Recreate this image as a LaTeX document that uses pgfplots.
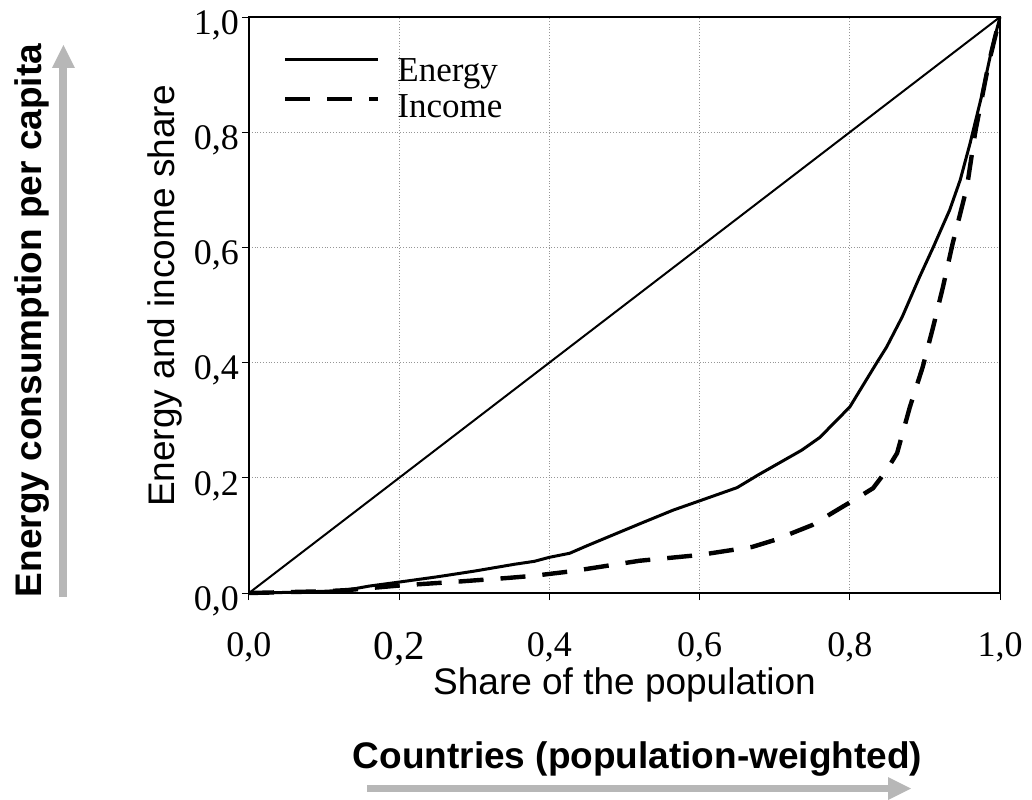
\documentclass[border=0pt]{standalone}
\usepackage{pgfplots}
\pgfplotsset{compat=1.18}
\usepackage{fontspec}
\setmainfont{Liberation Serif}
\newfontfamily\arial{Liberation Sans}
\definecolor{arrowgray}{RGB}{183,183,183}
\definecolor{gridgray}{RGB}{150,150,150}
\begin{document}
\begin{tikzpicture}
\begin{axis}[
  at={(0,0)}, anchor=south west,
  scale only axis, width=375.5pt, height=288pt,
  xmin=0, xmax=1, ymin=0, ymax=1,
  xtick={0,0.2,0.4,0.6,0.8,1}, ytick={0,0.2,0.4,0.6,0.8,1},
  xticklabels={{0,0},{\fontsize{20.5}{20.5}\selectfont 0,2},{0,4},{0,6},{0,8},{1,0}},
  yticklabels={{0,0},{0,2},{0,4},{0,6},{0,8},{1,0}},
  tick label style={font=\fontsize{18}{18}\selectfont},
  xticklabel style={yshift=-12.5pt},
  yticklabel style={xshift=2pt, yshift=-4pt},
  tick pos=left, tick align=outside, major tick length=3.5pt,
  tick style={black, line width=0.5pt},
  grid=major, grid style={gridgray, densely dotted, line width=0.5pt},
  axis line style={line width=1.2pt},
  clip=false,
]
\addplot[black, line width=1pt] coordinates {(0,0) (1,1)};
\addplot[black, line width=1.5pt] table {
x y
0 0
0.05 0.001
0.10 0.003
0.13 0.005
0.16 0.012
0.20 0.019
0.25 0.028
0.30 0.038
0.354 0.050
0.38 0.055
0.40 0.062
0.427 0.069
0.45 0.082
0.52 0.120
0.565 0.144
0.60 0.160
0.65 0.183
0.678 0.205
0.736 0.248
0.76 0.270
0.80 0.323
0.836 0.400
0.849 0.427
0.87 0.48
0.893 0.549
0.911 0.600
0.933 0.665
0.947 0.717
0.96 0.78
0.975 0.86
0.99 0.95
1.0 1.0
};
\addplot[black, line width=2.2pt, dash pattern=on 12.5pt off 8.5pt] table {
x y
0 0
0.10 0.003
0.13 0.005
0.20 0.013
0.27 0.019
0.343 0.026
0.38 0.030
0.431 0.038
0.52 0.056
0.60 0.066
0.67 0.080
0.70 0.092
0.75 0.118
0.783 0.144
0.81 0.165
0.831 0.182
0.849 0.213
0.863 0.243
0.880 0.323
0.897 0.392
0.911 0.462
0.924 0.531
0.937 0.607
0.956 0.705
0.967 0.80
0.985 0.92
1.0 1.0
};
\end{axis}
\begin{scope}[shift={(-124.5pt,296.5pt)}, x=0.5pt, y=-0.5pt]
  % legend
  \draw[black, line width=1.5pt] (285,60) -- (378,60);
  \draw[black, line width=2.2pt, dash pattern=on 12.5pt off 8.5pt] (285,99) -- (378,99);
  \node[anchor=base west, inner sep=0pt, font=\fontsize{17.5}{17.5}\selectfont] at (397,82) {Energy};
  \node[anchor=base west, inner sep=0pt, font=\fontsize{17.5}{17.5}\selectfont] at (397,118) {Income};
  % axis titles
  \node[anchor=base, inner sep=0pt, rotate=90, font=\arial\fontsize{18.5}{18.5}\selectfont] at (175,296) {Energy and income share};
  \node[anchor=base, inner sep=0pt, font=\arial\fontsize{18.5}{18.5}\selectfont] at (624.5,694) {Share of the population};
  \node[anchor=base, inner sep=0pt, rotate=90, font=\arial\bfseries\fontsize{18.5}{18.5}\selectfont] at (42,320.5) {Energy consumption per capita};
  \node[anchor=base, inner sep=0pt, font=\arial\bfseries\fontsize{18.5}{18.5}\selectfont] at (637.5,768) {Countries (population-weighted)};
  % arrows
  \fill[arrowgray] (59,597) rectangle (67,68);
  \fill[arrowgray] (52,68) -- (75,68) -- (63.5,45) -- cycle;
  \fill[arrowgray] (367,785) rectangle (888,792);
  \fill[arrowgray] (888,777) -- (888,800) -- (911,788.5) -- cycle;
  \pgfresetboundingbox
  \path[use as bounding box] (0,0) rectangle (1032,799);
\end{scope}
\end{tikzpicture}
\end{document}
